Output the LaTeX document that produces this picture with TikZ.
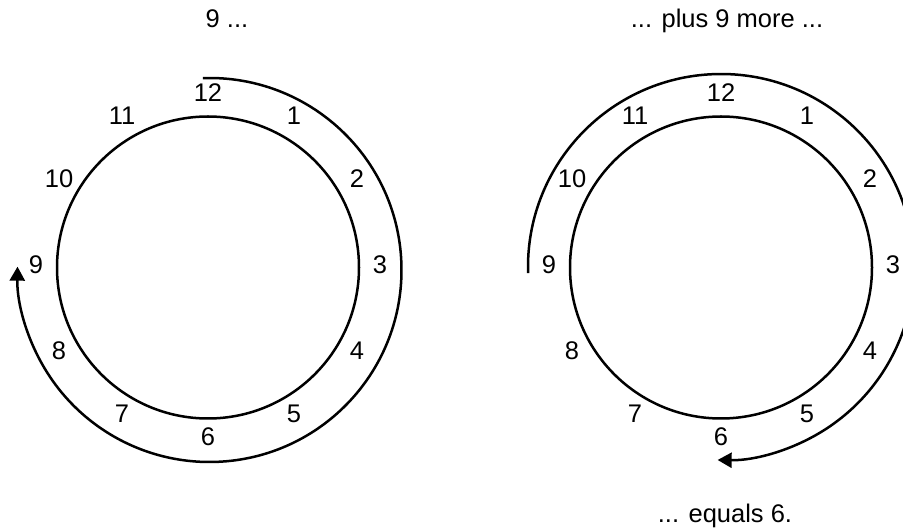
\documentclass[tikz,border=0pt]{standalone}
\usepackage{fontspec}
\setmainfont{Liberation Sans}
\usetikzlibrary{arrows.meta, calc}

\begin{document}
\begin{tikzpicture}[
    x=1pt, y=1pt,
    dial/.style={line width=2.5pt},
    hand/.style={line width=2.5pt, -{Triangle[length=14pt, width=15pt]}},
    hour/.style={font=\fontsize{25.5}{30}\selectfont, inner sep=0pt},
    caption/.style={font=\fontsize{25.5}{30}\selectfont, inner sep=0pt, anchor=base}
  ]
    \clip (0,0) rectangle (903,528);
    \coordinate (lc) at (208,260.5);
    \coordinate (rc) at (721,260.5);
    \coordinate (ls) at (209.5,258);
    \coordinate (rs) at (721,261);
    \draw[dial] (lc) circle (151);
    \draw[dial] (rc) circle (151);
    \foreach \h in {1,...,12} {
      \node[hour] (l\h) at ($(lc)+(90-30*\h:172)+(0,3)$) {\h};
      \node[hour] (r\h) at ($(rc)+(90-30*\h:172)+(0,3)$) {\h};
    }
    \draw[hand] ([shift={(92:192)}]ls) arc[start angle=92, end angle=-181, radius=192];
    \draw[hand] ([shift={(181.8:193)}]rs) arc[start angle=181.8, end angle=-91, radius=193];
    \node[caption] (start) at (227,500) {9 ...};
    \node[caption] (plus) at (727,500) {... plus 9 more ...};
    \node[caption] (result) at (725,6) {... equals 6.};
  \end{tikzpicture}
\end{document}
